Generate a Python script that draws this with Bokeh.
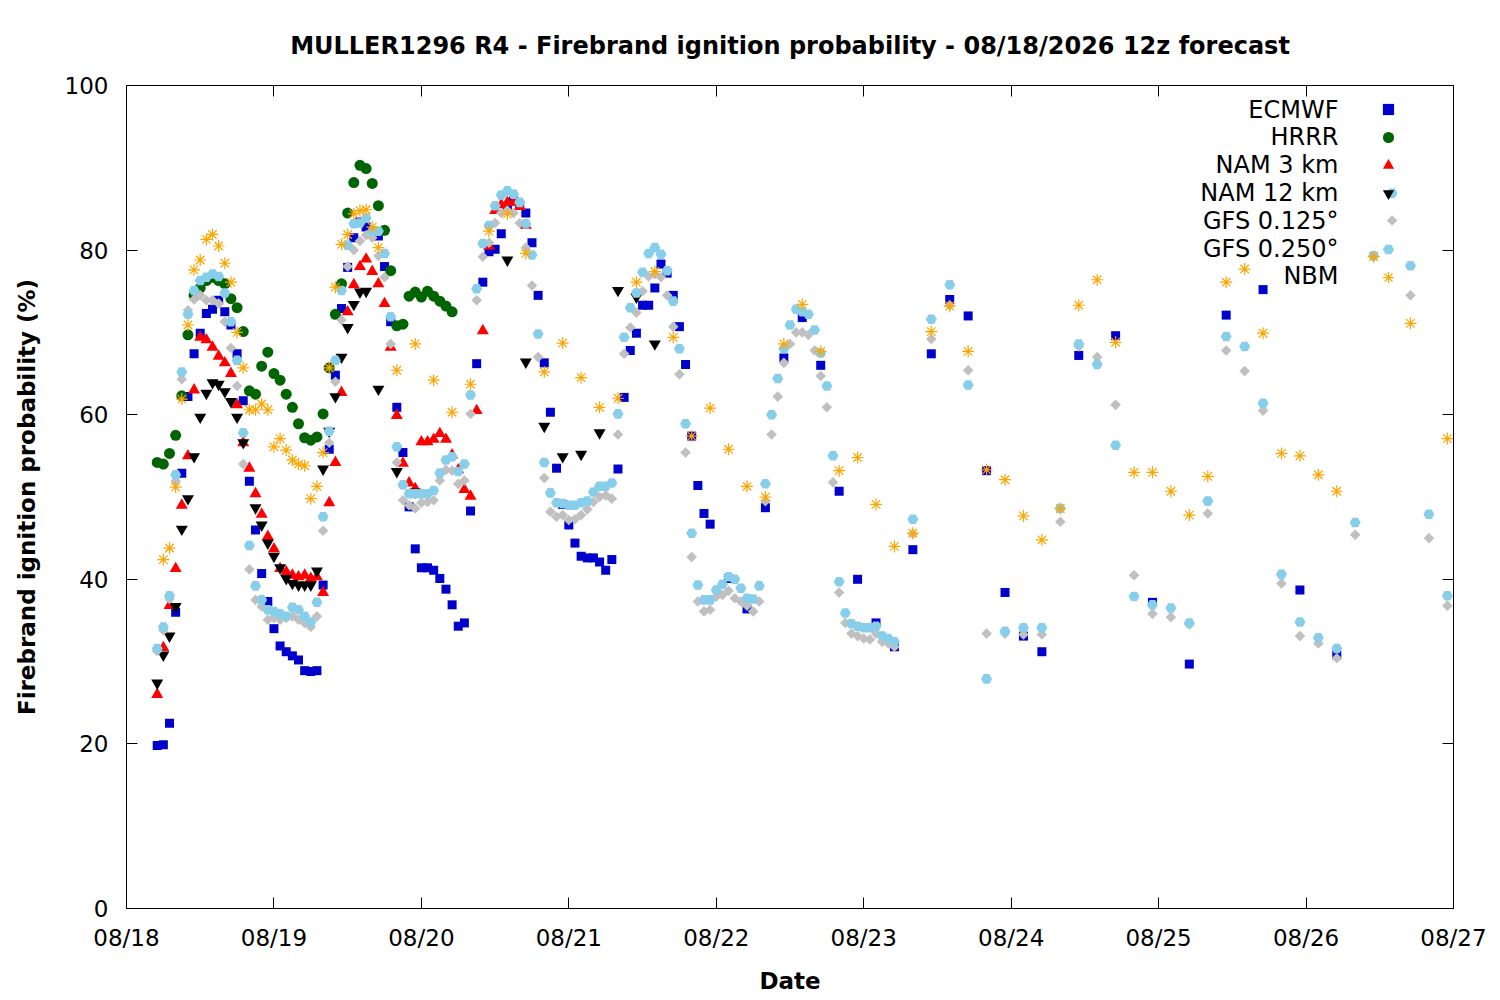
from math import pi, nan
from bokeh.plotting import figure
from bokeh.models import Range1d, FixedTicker, LinearAxis, Legend, LegendItem, ColumnDataSource, Label
from bokeh.embed import file_html
from bokeh.resources import INLINE

TITLE = "MULLER1296 R4 - Firebrand ignition probability - 08/18/2026 12z forecast"
X_LABEL = "Date"
Y_LABEL = "Firebrand ignition probability (%)"

# x axis: hours since 08/18 00:00 (local); one tick per day
DAY_TICKS = [0, 24, 48, 72, 96, 120, 144, 168, 192, 216]
DAY_LABELS = ["08/18", "08/19", "08/20", "08/21", "08/22", "08/23", "08/24", "08/25", "08/26", "08/27"]
Y_TICKS = [0, 20, 40, 60, 80, 100]

SERIES_NAMES = ["ECMWF", "HRRR", "NAM 3 km", "NAM 12 km", "GFS 0.125°", "GFS 0.250°", "NBM"]

# ---- ECMWF: hourly, then 3-hourly, then 6-hourly ----
ECMWF_HOURS = list(range(5, 96)) + list(range(98, 150, 3)) + list(range(155, 198, 6))
ECMWF_VALUES = [
    19.8, 19.9, 22.5, 36.0, 52.9, 62.2, 67.4, 69.9, 72.3, 72.8,
    73.9, 72.5, 70.9, 67.4, 61.7, 51.9, 46.0, 40.7, 37.3, 34.0,
    31.9, 31.2, 30.7, 30.2, 28.9, 28.8, 28.9, 39.3, 55.8, 64.8,
    72.9, 77.9, 81.5, 83.4, 82.8, 82.3, 81.7, 78.0, 71.3, 60.9,
    55.4, 48.8, 43.7, 41.4, 41.4, 41.1, 40.1, 38.8, 36.9, 34.3,
    34.7, 48.3, 66.2, 76.1, 79.8, 80.1, 82.0, 85.0, 86.0, 85.5,
    84.5, 80.9, 74.5, 66.3, 60.3, 53.5, 49.1, 46.6, 44.4, 42.8,
    42.6, 42.6, 42.1, 41.1, 42.4, 53.4, 62.1, 67.8, 69.9, 73.3,
    73.3, 75.4, 78.3, 77.2, 74.5, 70.7, 66.1, 57.4, 51.4, 48.0,
    46.7,
    40.1, 36.4, 48.7, 66.9, 71.8, 66.0, 50.7, 40.0, 34.7, 31.8,
    43.6, 67.4, 74.0, 72.0, 53.2, 38.4, 33.1, 31.2,
    67.2, 69.6, 37.2, 29.7, 72.1, 75.2, 38.7, 30.8,
]

# ---- HRRR: hourly ----
HRRR_HOURS = list(range(5, 54))
HRRR_VALUES = [
    54.2, 54.0, 55.3, 57.5, 62.3, 69.7, 74.5, 75.4, 76.3, 76.7,
    76.3, 75.9, 74.1, 73.0, 70.1, 62.9, 62.5, 65.9, 67.6, 65.0,
    64.2, 62.5, 60.9, 58.9, 57.2, 56.9, 57.3, 60.1, 65.7, 72.2,
    75.9, 84.5, 88.2, 90.3, 89.9, 88.1, 85.4, 82.4, 77.5, 70.8,
    71.0, 74.4, 74.9, 74.3, 75.0, 74.4, 73.8, 73.2, 72.5,
]

# ---- NAM 3 km: hourly ----
NAM3_HOURS = list(range(5, 66))
NAM3_VALUES = [
    26.0, 31.7, 36.8, 41.3, 49.0, 55.0, 63.0, 69.4, 69.1, 68.2,
    67.1, 66.3, 65.0, 61.2, 56.6, 53.5, 50.4, 47.9, 45.2, 43.7,
    41.3, 40.9, 40.5, 40.3, 40.5, 40.1, 40.3, 38.4, 49.3, 54.2,
    62.7, 72.5, 75.8, 78.0, 78.9, 77.4, 75.9, 73.5, 68.2, 59.9,
    54.1, 51.7, 51.0, 56.7, 56.7, 57.0, 57.7, 57.0, 55.1, 53.3,
    50.9, 50.1, 60.5, 70.2, 80.5, 84.8, 85.5, 85.8, 85.8, 85.3,
    83.0,
]

# ---- NAM 12 km: hourly, then 3-hourly (nan = not visible) ----
NAM12_HOURS = list(range(5, 42)) + list(range(44, 90, 3))
NAM12_VALUES = [
    27.4, 30.8, 33.1, 36.7, 46.1, 49.8, 54.9, 59.7, 62.6, 63.9,
    63.7, 62.8, 61.6, 59.7, 56.6, nan, 48.7, 46.6, 44.4, 42.8,
    41.4, 40.1, 39.5, 39.3, 39.3, 39.3, 41.0, 53.4, 58.0, 62.2,
    67.0, 70.6, 73.4, 74.9, 75.0, nan, 63.1,
    53.1, 50.6, nan, nan, nan, nan, 78.8, 66.4, 58.6, 54.9,
    55.2, 57.8, 75.1, 74.3, 68.6, nan,
]

# ---- GFS 0.125: hourly, then 3-hourly ----
GFS125_HOURS = list(range(5, 126)) + list(range(128, 216, 3))
GFS125_VALUES = [
    31.3, 33.8, 37.6, 51.9, 64.3, 72.7, 74.0, 74.5, 73.9, 73.9,
    73.5, 71.3, 68.1, 63.5, 54.0, 41.2, 37.5, 36.7, 35.1, 35.3,
    35.1, 35.3, 35.5, 35.1, 34.7, 34.2, 35.5, 45.9, 56.6, 64.0,
    71.5, 78.0, 80.0, 81.1, 81.8, 81.5, 79.3, 76.7, 68.6, 54.2,
    49.6, 49.0, 48.6, 49.3, 49.4, 49.6, 52.0, 53.3, 53.2, 51.6,
    52.0, 60.1, 73.9, 79.2, 80.9, 83.3, 84.5, 84.8, 84.5, 83.3,
    80.3, 75.7, 67.0, 52.3, 48.2, 47.6, 47.8, 47.2, 47.3, 47.8,
    48.5, 49.4, 50.0, 50.2, 49.8, 57.6, 67.4, 70.6, 72.4, 75.0,
    76.8, 77.1, 76.7, 74.5, 70.7, 64.9, 55.4, 42.7, 37.3, 36.1,
    36.3, 37.9, 38.1, 38.6, 37.7, 37.3, 36.8, 36.1, 37.3, 49.5,
    57.6, 62.2, 66.3, 68.6, 70.0, 70.0, 69.7, 67.8, 64.7, 60.9,
    51.8, 38.4, 34.7, 33.4, 33.1, 32.8, 32.7, 33.4, 32.4, 32.2,
    31.8,
    45.5, 69.2, 73.3, 65.4, 33.4, 33.4, 33.3, 33.3, 47.0, 68.3,
    67.0, 61.2, 40.5, 35.8, 35.4, 34.5, 48.0, 67.8, 65.3, 60.5,
    39.5, 33.1, 32.2, 30.4, 45.4, 79.2, 83.6, 74.5, 45.0, 36.8,
]

# ---- GFS 0.250: hourly, then 3-hourly ----
GFS250_HOURS = list(range(5, 126)) + list(range(128, 216, 3))
GFS250_VALUES = [
    31.6, 34.2, 38.0, 52.7, 65.2, 72.2, 75.1, 76.3, 76.7, 77.1,
    76.8, 74.8, 71.3, 66.6, 57.8, 44.1, 39.2, 37.5, 36.3, 36.1,
    35.8, 35.5, 36.6, 36.3, 35.5, 34.8, 37.2, 47.6, 58.0, 66.6,
    75.1, 80.6, 83.2, 83.3, 83.9, 82.3, 82.3, 79.6, 71.9, 56.1,
    51.5, 50.4, 50.4, 50.4, 50.4, 50.8, 52.9, 54.5, 54.9, 53.1,
    54.0, 62.4, 75.3, 80.8, 83.0, 85.4, 86.7, 87.2, 86.8, 85.8,
    83.2, 79.4, 69.8, 54.2, 50.5, 49.3, 49.2, 49.0, 49.0, 49.3,
    49.5, 50.6, 51.3, 51.3, 51.7, 60.1, 69.4, 73.0, 74.8, 77.3,
    79.6, 80.3, 79.5, 77.5, 73.8, 68.0, 58.9, 45.6, 39.3, 37.5,
    37.5, 38.7, 39.4, 40.3, 40.0, 38.9, 37.7, 37.6, 39.2, 51.6,
    60.0, 64.4, 68.0, 70.9, 72.8, 72.5, 72.2, 70.3, 67.5, 63.5,
    55.0, 39.7, 35.9, 34.6, 34.3, 34.1, 34.1, 34.3, 33.1, 32.8,
    32.4,
    47.3, 71.6, 75.8, 63.6, 27.9, 33.7, 34.1, 34.1, 48.6, 68.6,
    66.1, 56.3, 37.9, 36.9, 36.5, 34.7, 49.5, 69.5, 68.3, 61.4,
    40.6, 34.8, 32.9, 31.6, 46.9, 79.3, 86.9, 78.1, 47.9, 38.0,
]

# ---- NBM: hourly, then 3-hourly, then 6-hourly ----
NBM_HOURS = list(range(6, 42)) + list(range(44, 198, 3)) + list(range(203, 216, 6))
NBM_VALUES = [
    42.4, 43.8, 51.2, 61.9, 70.9, 77.6, 78.8, 81.3, 81.9, 80.5,
    78.4, 76.1, 70.0, 65.7, 60.6, 60.6, 61.3, 60.6, 56.1, 57.1,
    55.7, 54.5, 54.0, 53.8, 49.8, 51.3, 55.4, 65.7, 75.5, 80.7,
    81.9, 84.4, 84.8, 84.9, 82.8, 80.3,
    65.4, 68.6, 64.2, 60.3, 63.7, 82.3, 84.4, 79.6, 65.2, 68.7,
    64.5, 60.9, 62.0, 76.1, 77.4, 69.4, 57.4, 60.8, 55.8, 51.3,
    50.0, 68.6, 73.4, 67.7, 53.2, 54.8, 49.1, 44.0, 45.6, 70.1,
    73.2, 67.7, 53.3, 52.1, 47.7, 44.8, 48.6, 73.3, 76.4, 68.8,
    53.0, 53.0, 50.7, 47.8, 52.5, 76.1, 77.7, 69.9, 55.3, 55.0,
    52.7, 50.7,
    79.2, 71.1, 57.1,
]

FONT = "DejaVu Sans"
GREY = "#c0c0c0"

p = figure(
    width=1492, height=996,
    x_range=Range1d(0, 216), y_range=Range1d(0, 100),
    output_backend="svg", toolbar_location=None,
    min_border_left=126, min_border_right=39, min_border_top=85, min_border_bottom=87,
    background_fill_color="white", border_fill_color="white",
)
p.grid.visible = False
p.outline_line_color = "black"
p.outline_line_width = 1

p.title.text = TITLE
p.title.align = "center"
p.title.text_font = FONT
p.title.text_font_size = "24px"
p.title.text_font_style = "bold"
p.title.text_color = "black"
p.title.standoff = 51


def style_axis(ax):
    ax.axis_line_color = "black"
    ax.major_tick_line_color = "black"
    ax.major_tick_in = 11
    ax.major_tick_out = 0
    ax.minor_tick_line_color = None
    ax.major_label_text_font = FONT
    ax.major_label_text_font_size = "23px"
    ax.major_label_text_color = "black"
    ax.axis_label_text_font = FONT
    ax.axis_label_text_font_size = "23px"
    ax.axis_label_text_font_style = "bold"
    ax.axis_label_text_color = "black"


xa = p.xaxis[0]
style_axis(xa)
xa.ticker = FixedTicker(ticks=DAY_TICKS)
xa.major_label_overrides = {t: lab for t, lab in zip(DAY_TICKS, DAY_LABELS)}
xa.major_label_standoff = 16
xa.axis_label = X_LABEL
xa.axis_label_standoff = 14

ya = p.yaxis[0]
style_axis(ya)
ya.ticker = FixedTicker(ticks=Y_TICKS)
ya.major_label_standoff = 18
ya.axis_label = Y_LABEL
ya.axis_label_standoff = 22

top = LinearAxis(ticker=FixedTicker(ticks=DAY_TICKS),
                 major_label_overrides={t: "" for t in DAY_TICKS})
style_axis(top)
top.major_label_standoff = 0
p.add_layout(top, "above")

right = LinearAxis(ticker=FixedTicker(ticks=Y_TICKS),
                   major_label_overrides={t: "" for t in Y_TICKS})
style_axis(right)
right.major_label_standoff = 0
p.add_layout(right, "right")


def src(hours, values):
    return ColumnDataSource(data=dict(x=hours, y=values))


r_ec = p.scatter("x", "y", source=src(ECMWF_HOURS, ECMWF_VALUES), marker="square",
                 size=9, fill_color="#0000cd", line_color=None)
r_hr = p.scatter("x", "y", source=src(HRRR_HOURS, HRRR_VALUES), marker="circle",
                 size=11, fill_color="#006400", line_color=None)
r_n3 = p.scatter("x", "y", source=src(NAM3_HOURS, NAM3_VALUES), marker="triangle",
                 size=12, fill_color="#ff0000", line_color=None)
r_n12 = p.scatter("x", "y", source=src(NAM12_HOURS, NAM12_VALUES), marker="inverted_triangle",
                  size=12, fill_color="#000000", line_color=None)
r_g125 = p.scatter("x", "y", source=src(GFS125_HOURS, GFS125_VALUES), marker="square",
                   angle=pi / 4, size=7.5, fill_color=GREY, line_color=None)
r_g250 = p.scatter("x", "y", source=src(GFS250_HOURS, GFS250_VALUES), marker="hex",
                   size=11, fill_color="#87ceeb", line_color=None)
r_nbm = p.scatter("x", "y", source=src(NBM_HOURS, NBM_VALUES), marker="asterisk",
                  size=12, line_color="#ffa500", line_width=1.2)

# legend key for the diamond (rotated squares are not rotated inside a legend)
r_g125_key = p.scatter("x", "y", source=src([], []), marker="diamond",
                       size=12, fill_color=GREY, line_color=None)

# legend keys (right of the text, like the original), labels drawn as right-aligned text
key_renderers = [r_ec, r_hr, r_n3, r_n12, r_g125_key, r_g250, r_nbm]
ROW_H = 27.83
legend = Legend(items=[LegendItem(label="", renderers=[r]) for r in key_renderers],
                location=(1248, 617))
legend.glyph_width = 28
legend.glyph_height = 28
legend.label_height = 28
legend.label_width = 0
legend.spacing = 0
legend.padding = 0
legend.margin = 0
legend.label_standoff = 0
legend.background_fill_alpha = 0
legend.border_line_alpha = 0
p.add_layout(legend)

for i, name in enumerate(SERIES_NAMES):
    p.add_layout(Label(x=1212, y=799 - i * ROW_H, x_units="screen", y_units="screen",
                       text=name, text_align="right", text_baseline="middle",
                       text_font=FONT, text_font_size="24px", text_color="black"))

open("out.html", "w").write(file_html(p, INLINE))
